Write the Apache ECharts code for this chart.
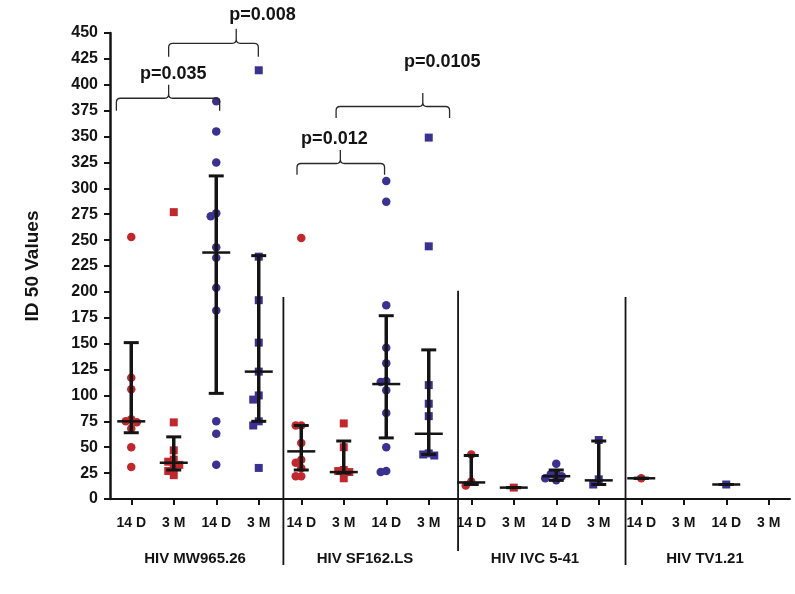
<!DOCTYPE html>
<html><head><meta charset="utf-8">
<script src="https://cdn.jsdelivr.net/npm/echarts@6/dist/echarts.min.js"></script>
<style>html,body{margin:0;padding:0;background:#fff}#c{width:795px;height:594px}</style>
</head><body><div id="c"></div>
<script>
// ---------- data ----------
const tickLabels = ['14 D','3 M','14 D','3 M','14 D','3 M','14 D','3 M','14 D','3 M','14 D','3 M','14 D','3 M','14 D','3 M'];
const groupNames = ['HIV MW965.26','HIV SF162.LS','HIV IVC 5-41','HIV TV1.21'];
const yMin = 0, yMax = 450, yStep = 25;

// individual ID50 values per column
const mw14D = [253,117,106,77,75,74,68,50,31];
const mw3M  = [277,74,47,38,36,33,30,27,23];
const mw14Db = [384,355,325,276,273,243,233,204,182,75,63,33];
const mw3Mb  = [414,234,192,151,123,100,96,75,71,30];
const sf14D = [252,71,71,54,38,35,30,22,22];
const sf3M  = [73,50,28,27,26,20];
const sf14Db = [307,287,187,146,131,114,113,105,83,50,27,26];
const sf3Mb  = [349,244,110,92,80,44,43,42];
const ivc14D = [43,17,13];
const ivc3M  = [11];
const ivc14Db = [34,25,24,22,20,18];
const ivc3Mb  = [57,19,14];
const tv14D = [20];
const tv3M  = [];
const tv14Db = [14];
const tv3Mb  = [];
const columns = [mw14D,mw3M,mw14Db,mw3Mb,sf14D,sf3M,sf14Db,sf3Mb,ivc14D,ivc3M,ivc14Db,ivc3Mb,tv14D,tv3M,tv14Db,tv3Mb];
const columnColor = ['red','red','blue','blue','red','red','blue','blue','red','red','blue','blue','red','red','blue','blue'];
const columnShape = ['circle','rect','circle','rect','circle','rect','circle','rect','circle','rect','circle','rect','circle','rect','rect','rect'];

// median and interquartile range per column
const lowerQ = [64,28,102,75,28,25,59,43,14,11,18,14,20,null,14,null];
const medians = [75,35,238,123,46,26,111,63,16,11,22,18,20,null,14,null];
const upperQ = [151,60,312,235,71,56,177,144,42,11,28,56,20,null,14,null];

// significance annotations
const pLabels = ['p=0.035','p=0.008','p=0.012','p=0.0105'];

// ---------- annotation layout ----------
const bracketGeom = [ // [left, peak, right] in column units, [endY, barY, peakY] in value units
  {x:[-0.35,0.88,2.08], y:[375,387,400], t:[0.99,410]},
  {x:[0.88,2.47,2.99], y:[427,440,454], t:[3.09,467]},
  {x:[3.90,4.92,5.96], y:[313,324,337], t:[4.78,348]},
  {x:[4.82,6.86,7.49], y:[368,379,392], t:[7.32,422]}
];
const separators = [[3.58,195,66],[7.69,201,52],[11.63,195,66]];

const RED = '#c0282d', BLUE = '#3b3190', INK = '#141414';
const FONT = '"Liberation Sans", Arial, sans-serif';

// beeswarm jitter so overlapping points sit side by side
function swarm(vals, col) {
  const sorted = vals.slice().sort((a,b)=>b-a);
  const placed = [];
  const offs = [0,-0.13,0.13,-0.26,0.26,-0.39,0.39];
  sorted.forEach(v => {
    let off = 0;
    for (const c of offs) {
      const ok = placed.every(p => Math.hypot((p[0]-col-c)*42.5,(p[1]-v)*1.033) >= 5.5);
      if (ok) { off = c; break; }
    }
    placed.push([col+off, v]);
  });
  return placed;
}
const groups = {red_circle:[],red_rect:[],blue_circle:[],blue_rect:[]};
columns.forEach((vals,i) => {
  groups[columnColor[i]+'_'+columnShape[i]].push(...swarm(vals,i));
});

const scatterSeries = Object.keys(groups).map(k => {
  const [c,s] = k.split('_');
  return {
    type:'scatter', xAxisIndex:2, yAxisIndex:0, data:groups[k],
    symbol: s, symbolSize: s==='rect'?8:8.5,
    itemStyle:{color: c==='red'?RED:BLUE, opacity:1}, z:3, silent:true
  };
});

const errData = medians.map((m,i)=> m==null?null:[i, lowerQ[i], m, upperQ[i]]).filter(d=>d);

const option = {
  animation:false,
  backgroundColor:'#fff',
  textStyle:{fontFamily:FONT},
  grid:{left:110, right:5, top:33, bottom:95, containLabel:false},
  xAxis:[
    {type:'category', data:tickLabels, position:'bottom', boundaryGap:true,
     axisLine:{show:true, onZero:false, lineStyle:{color:INK, width:2}},
     axisTick:{show:true, alignWithLabel:true, length:6, lineStyle:{color:INK, width:2}},
     axisLabel:{fontFamily:FONT, fontWeight:'bold', fontSize:14, color:INK, margin:17, interval:0},
     splitLine:{show:false}},
    {type:'category', data:groupNames, position:'bottom',
     axisLine:{show:false, onZero:false}, axisTick:{show:false},
     axisLabel:{fontFamily:FONT, fontWeight:'bold', fontSize:15, color:INK, margin:52, interval:0},
     splitLine:{show:false}},
    {type:'value', min:-0.5, max:15.5, show:false, position:'bottom', axisLine:{onZero:false}}
  ],
  yAxis:[{type:'value', min:yMin, max:yMax, interval:yStep,
    name:'ID 50 Values', nameLocation:'middle', nameRotate:90, nameGap:68,
    nameTextStyle:{fontFamily:FONT, fontWeight:'bold', fontSize:19, color:INK},
    axisLine:{show:true, onZero:false, lineStyle:{color:INK, width:2.5}},
    axisTick:{show:true, length:6, lineStyle:{color:INK, width:2}},
    axisLabel:{fontFamily:FONT, fontWeight:'bold', fontSize:16, color:INK, margin:12},
    splitLine:{show:false}}],
  series:[
    ...scatterSeries,
    {type:'custom', xAxisIndex:2, yAxisIndex:0, z:5, clip:false, silent:true,
     data: errData,
     renderItem(params, api){
       const x=api.value(0);
       const lo=api.coord([x,api.value(1)]), md=api.coord([x,api.value(2)]), hi=api.coord([x,api.value(3)]);
       const cw=7.5, mw=14;
       const ls={stroke:INK, lineWidth:3};
       return {type:'group', children:[
         {type:'line', shape:{x1:lo[0],y1:lo[1],x2:hi[0],y2:hi[1]}, style:{stroke:INK,lineWidth:3.5}},
         {type:'line', shape:{x1:lo[0]-cw,y1:lo[1],x2:lo[0]+cw,y2:lo[1]}, style:ls},
         {type:'line', shape:{x1:hi[0]-cw,y1:hi[1],x2:hi[0]+cw,y2:hi[1]}, style:ls},
         {type:'line', shape:{x1:md[0]-mw,y1:md[1],x2:md[0]+mw,y2:md[1]}, style:{stroke:INK,lineWidth:2.5}}
       ]};
     }},
    {type:'custom', xAxisIndex:2, yAxisIndex:0, z:4, clip:false, silent:true,
     data: separators,
     renderItem(params, api){
       const x=api.value(0);
       const top=api.coord([x,api.value(1)]), base=api.coord([x,0]);
       return {type:'line', shape:{x1:top[0],y1:top[1],x2:top[0],y2:base[1]+api.value(2)},
               style:{stroke:INK, lineWidth:1.8}};
     }},
    {type:'custom', xAxisIndex:2, yAxisIndex:0, z:4, clip:false, silent:true,
     data: bracketGeom.map((b,i)=>[i]),
     renderItem(params, api){
       const b=bracketGeom[api.value(0)];
       const [L,P,R]=b.x, [eY,hY,pY]=b.y;
       const c=(x,y)=>api.coord([x,y]);
       const pl=c(L,eY), pl2=c(L,hY), pk=c(P,pY), ph=c(P,hY), pr=c(R,hY), pr2=c(R,eY);
       const r=4;
       const d = `M${pl[0]},${pl[1]} L${pl2[0]},${pl2[1]+r} Q${pl2[0]},${pl2[1]} ${pl2[0]+r},${pl2[1]} `+
                 `L${ph[0]-r},${ph[1]} Q${ph[0]},${ph[1]} ${ph[0]},${ph[1]-r} L${pk[0]},${pk[1]} `+
                 `M${ph[0]},${ph[1]-r} Q${ph[0]},${ph[1]} ${ph[0]+r},${ph[1]} `+
                 `L${pr[0]-r},${pr[1]} Q${pr[0]},${pr[1]} ${pr[0]},${pr[1]+r} L${pr2[0]},${pr2[1]}`;
       const t=c(b.t[0],b.t[1]);
       return {type:'group', children:[
         {type:'path', shape:{pathData:d}, style:{stroke:'#2a2a2a', lineWidth:1.3, fill:null}},
         {type:'text', x:t[0], y:t[1], style:{text:pLabels[api.value(0)], align:'center', verticalAlign:'middle',
           fontFamily:FONT, fontWeight:'bold', fontSize:18, fill:INK}}
       ]};
     }}
  ]
};
const chart = echarts.init(document.getElementById('c'), null, {renderer:'canvas'});
chart.setOption(option);
</script></body></html>
